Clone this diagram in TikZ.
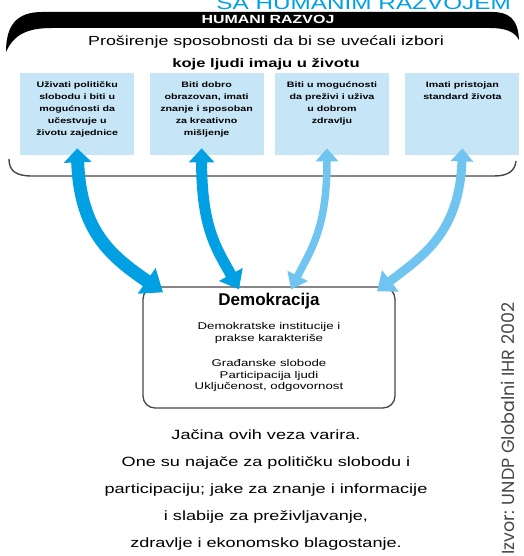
\documentclass[tikz,border=0pt]{standalone}
\usepackage{fontspec}
\setmainfont{Liberation Sans}
\newfontfamily\widefont{Liberation Sans}[FakeStretch=1.35]
\newfontfamily\srcfont{Poppins}
\usepackage{tikz}
\usetikzlibrary{arrows.meta, positioning}
\definecolor{hrblue}{RGB}{0,160,226}
\definecolor{hrlight}{RGB}{112,197,240}
\definecolor{hrbox}{RGB}{198,230,248}
\definecolor{hrgray}{RGB}{70,70,70}
\tikzset{
  goal/.style={
    rectangle, fill=hrbox, inner xsep=3pt, inner ysep=4.5pt, anchor=north west,
    font=\widefont\fontsize{7.9}{12}\selectfont\bfseries
  },
  demo/.style={
    rectangle, rounded corners=12pt, draw=hrgray, line width=1.3pt,
    fill=white, inner sep=4pt
  },
  strong/.style={color=hrblue},
  weak/.style={color=hrlight}
}
\newcommand{\goaltext}[1]{\parbox[t][73pt][t]{108pt}{\vspace{4pt}\centering #1}}

\begin{document}
\begin{tikzpicture}[x=1pt, y=-1pt]
  \useasboundingbox (0,0) rectangle (523,556);
  \clip (0,0) rectangle (523,556);

  % title strip, cut by the page edge
  \node[anchor=base east, text=hrblue, font=\widefont\fontsize{18}{18}\selectfont, inner sep=0pt]
    (title) at (511,9.5) {SA HUMANIM RAZVOJEM};

  % bracket frame
  \fill[black] (6,52) .. controls (6,26) and (16,12) .. (42,12) -- (492,12)
    .. controls (508,12) and (518,18) .. (519,40)
    .. controls (515,32) and (506,28) .. (490,28) -- (52,28)
    .. controls (28,28) and (14,34) .. (6,52) -- cycle;
  \draw[line width=1.4pt, hrgray] (9,159) .. controls (9,171) and (16,176) .. (32,176)
    -- (494,176) .. controls (508,176) and (515,171) .. (516,161);

  \node[text=white, font=\widefont\fontsize{11.8}{12}\selectfont\bfseries] (hr) at (268,19) {HUMANI RAZVOJ};
  \node[font=\widefont\fontsize{13.2}{14}\selectfont] (sub1) at (266,42)
    {Proširenje sposobnosti da bi se uvećali izbori};
  \node[font=\widefont\fontsize{12.3}{14}\selectfont\bfseries, below=3pt of sub1] (sub2)
    {koje ljudi imaju u životu};

  \node[goal] (g1) at (20,73) {\goaltext{Uživati političku\\ slobodu i biti u\\ mogućnosti da\\ učestvuje u\\ životu zajednice}};
  \node[goal, right=15pt of g1.north east, anchor=north west] (g2)
    {\goaltext{Biti dobro\\ obrazovan, imati\\ znanje i sposoban\\ za kreativno\\ mišljenje}};
  \node[goal, right=11pt of g2.north east, anchor=north west] (g3)
    {\goaltext{Biti u mogućnosti\\ da preživi i uživa\\ u dobrom\\ zdravlju}};
  \node[goal, right=16pt of g3.north east, anchor=north west] (g4)
    {\goaltext{Imati pristojan\\ standard života}};

  \node[demo] (dem) at (269,347.5) {\parbox[t][113pt][t]{244pt}{\centering
    \vspace{2pt}
    {\fontsize{17}{19}\selectfont\bfseries Demokracija\par}\vspace{13pt}
    {\widefont\fontsize{9.8}{11.5}\selectfont Demokratske institucije i\\ prakse karakteriše\par}\vspace{14pt}
    {\widefont\fontsize{9.8}{11.5}\selectfont Građanske slobode\\ Participacija ljudi\\ Uključenost, odgovornost\par}}};

  % links, thickest for the strongest ties
  \draw[strong, line width=13pt, {Triangle[length=14pt, width=27pt]}-{Triangle[length=20pt, width=30pt]}]
    ([yshift=7pt]g1.south) .. controls +(3,85) and +(-50,-35) .. ([xshift=-106pt, yshift=-6pt]dem.north);
  \draw[strong, line width=11pt, {Triangle[length=14pt, width=25pt]}-{Triangle[length=17pt, width=26pt]}]
    ([xshift=-5pt, yshift=7pt]g2.south) .. controls +(0,80) and +(-22,-40) .. ([xshift=-30pt, yshift=-3pt]dem.north);
  \draw[weak, line width=7.5pt, {Triangle[length=13pt, width=22pt]}-{Triangle[length=15pt, width=22pt]}]
    ([xshift=-5pt, yshift=7pt]g3.south) .. controls +(0,80) and +(20,-40) .. ([xshift=22pt, yshift=-3pt]dem.north);
  \draw[weak, line width=9pt, {Triangle[length=13pt, width=22pt]}-{Triangle[length=17pt, width=26pt]}]
    ([yshift=7pt]g4.south) .. controls +(-3,85) and +(45,-35) .. ([xshift=108pt, yshift=-5pt]dem.north);

  \node[anchor=north, align=center, font=\widefont\fontsize{13.4}{27}\selectfont] (note) at (266,426)
    {Jačina ovih veza varira.\\
     One su najače za političku slobodu i\\
     participaciju; jake za znanje i informacije\\
     i slabije za preživljavanje,\\
     zdravlje i ekonomsko blagostanje.};

  \node[rotate=90, anchor=west, text=hrgray, font=\srcfont\fontsize{17.5}{18}\selectfont, inner sep=0pt]
    (src) at (508,555) {Izvor: UNDP Globalni IHR 2002};
\end{tikzpicture}
\end{document}
